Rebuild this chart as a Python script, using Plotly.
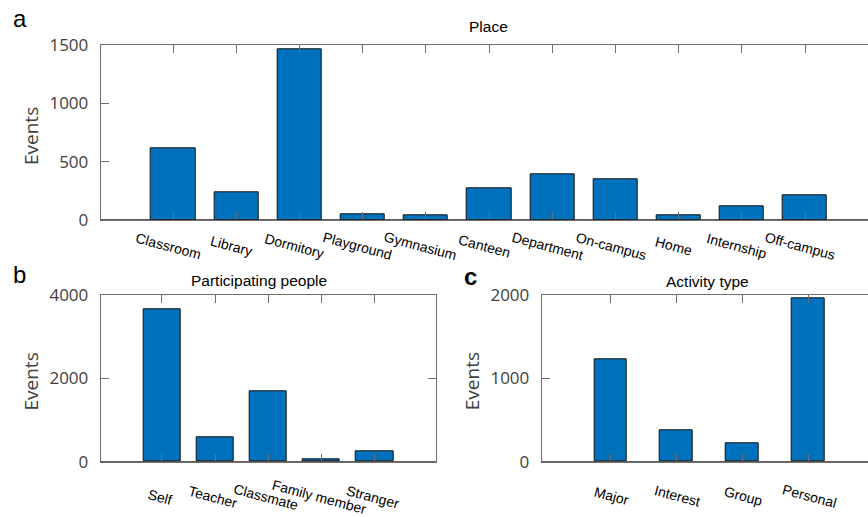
import plotly.graph_objects as go

# ---------------- data ----------------
place_cats = ["Classroom", "Library", "Dormitory", "Playground", "Gymnasium", "Canteen",
              "Department", "On-campus", "Home", "Internship", "Off-campus"]
place_vals = [615, 234, 1463, 51, 40, 271, 394, 351, 43, 114, 208]

people_cats = ["Self", "Teacher", "Classmate", "Family member", "Stranger"]
people_vals = [3657, 591, 1685, 55, 247]

activity_cats = ["Major", "Interest", "Group", "Personal"]
activity_vals = [1233, 373, 217, 1964]

place_yticks = [0, 500, 1000, 1500]
people_yticks = [0, 2000, 4000]
activity_yticks = [0, 1000, 2000]

# ---------------- layout helpers ----------------
W, H = 868, 517
def fx(p):
    return p / W
def fy(p):
    return 1 - p / H

BAR = "#0072BD"
LINE = "#6e6e6e"
TICKFONT = dict(family="Open Sans, DejaVu Sans", size=17, color="#404040")
LABFONT = dict(family="Liberation Sans, Arial, sans-serif", size=14, color="black")
TITLEFONT = dict(family="Liberation Sans, Arial, sans-serif", size=15.5, color="black")

fig = go.Figure()

panels = [
    # cats, vals, xaxis, yaxis, width, xdomain, ydomain, xrange, yrange, yticks, ymirror, label shift
    (place_cats, place_vals, "x", "y", 0.7, [fx(100.7), 1.0], [fy(220), fy(45.3)],
     [-1.149, 10.997], [0, 1500], place_yticks, False, (-5, -26)),
    (people_cats, people_vals, "x2", "y2", 0.7, [fx(100.7), fx(435.7)], [fy(461.7), fy(295.3)],
     [-1.15, 5.147], [0, 4000], people_yticks, "ticks", (-2, -35)),
    (activity_cats, activity_vals, "x3", "y3", 0.5, [fx(541.7), 1.0], [fy(461.7), fy(295.3)],
     [-1.049, 3.912], [0, 2000], activity_yticks, False, (1, -34)),
]

annotations = []
shapes = []
for i, (cats, vals, xa, ya, bw, xd, yd, xr, yr, yt, ymir, (dx, dy)) in enumerate(panels):
    fig.add_trace(go.Bar(
        x=cats, y=vals, xaxis=xa, yaxis=ya, width=bw,
        marker=dict(color=BAR, line=dict(color="#111111", width=1)),
        showlegend=False, hoverinfo="x+y",
    ))
    suffix = "" if i == 0 else str(i + 1)
    fig.layout["xaxis" + suffix] = dict(
        domain=xd, anchor=ya, type="category", range=xr, automargin=False,
        showline=True, linecolor=LINE, linewidth=1, mirror="ticks",
        ticks="inside", ticklen=8, tickcolor=LINE, tickwidth=1,
        showticklabels=False, showgrid=False, zeroline=False, fixedrange=True,
    )
    fig.layout["yaxis" + suffix] = dict(
        domain=yd, anchor=xa, range=yr, tickvals=yt, automargin=False,
        showline=True, linecolor=LINE, linewidth=1, mirror=ymir,
        ticks="inside", ticklen=8, tickcolor=LINE, tickwidth=1,
        tickfont=TICKFONT, ticklabelstandoff=8,
        showgrid=False, zeroline=False, fixedrange=True,
    )
    # baseline of bar plot
    shapes.append(dict(type="line", xref=xa + " domain", yref=ya, x0=0, x1=1, y0=0, y1=0,
                       line=dict(color="#2a2a2a", width=1.5), layer="above"))
    # rotated category labels
    for c in cats:
        annotations.append(dict(
            x=c, y=0, xref=xa, yref=ya, text=c, showarrow=False, textangle=15,
            xanchor="center", yanchor="middle", xshift=dx, yshift=dy, font=LABFONT,
        ))

# axis titles
for (cx, cy) in [(31, 136), (30.5, 382), (471.5, 381.7)]:
    annotations.append(dict(
        x=fx(cx), y=fy(cy), xref="paper", yref="paper", text="Events", showarrow=False,
        textangle=-90, xanchor="center", yanchor="middle",
        font=dict(family="Open Sans, DejaVu Sans", size=19, color="#404040"),
    ))

# panel titles
for (t, cx, cy) in [("Place", 488.7, 26.5), ("Participating people", 259, 280.8),
                    ("Activity type", 707.3, 281.5)]:
    annotations.append(dict(
        x=fx(cx), y=fy(cy), xref="paper", yref="paper", text=t, showarrow=False,
        xanchor="center", yanchor="middle", font=TITLEFONT,
    ))

# panel letters
for (t, cx, cy, bold) in [("a", 20, 18.7, False), ("b", 19.7, 274.7, False), ("c", 470.3, 276.7, True)]:
    annotations.append(dict(
        x=fx(cx), y=fy(cy), xref="paper", yref="paper",
        text=("<b>%s</b>" % t) if bold else t, showarrow=False,
        xanchor="center", yanchor="middle",
        font=dict(family="Liberation Sans, Arial, sans-serif", size=24, color="black"),
    ))

fig.update_layout(
    width=W, height=H, margin=dict(l=0, r=0, t=0, b=0, pad=0, autoexpand=False),
    paper_bgcolor="white", plot_bgcolor="white", template="none",
    annotations=annotations, shapes=shapes, bargap=0,
)

fig.write_html(
    "out.html",
    config={"displayModeBar": False},
    post_script="document.body.style.margin='0';document.body.style.padding='0';"
                "document.body.style.overflow='hidden';",
)
